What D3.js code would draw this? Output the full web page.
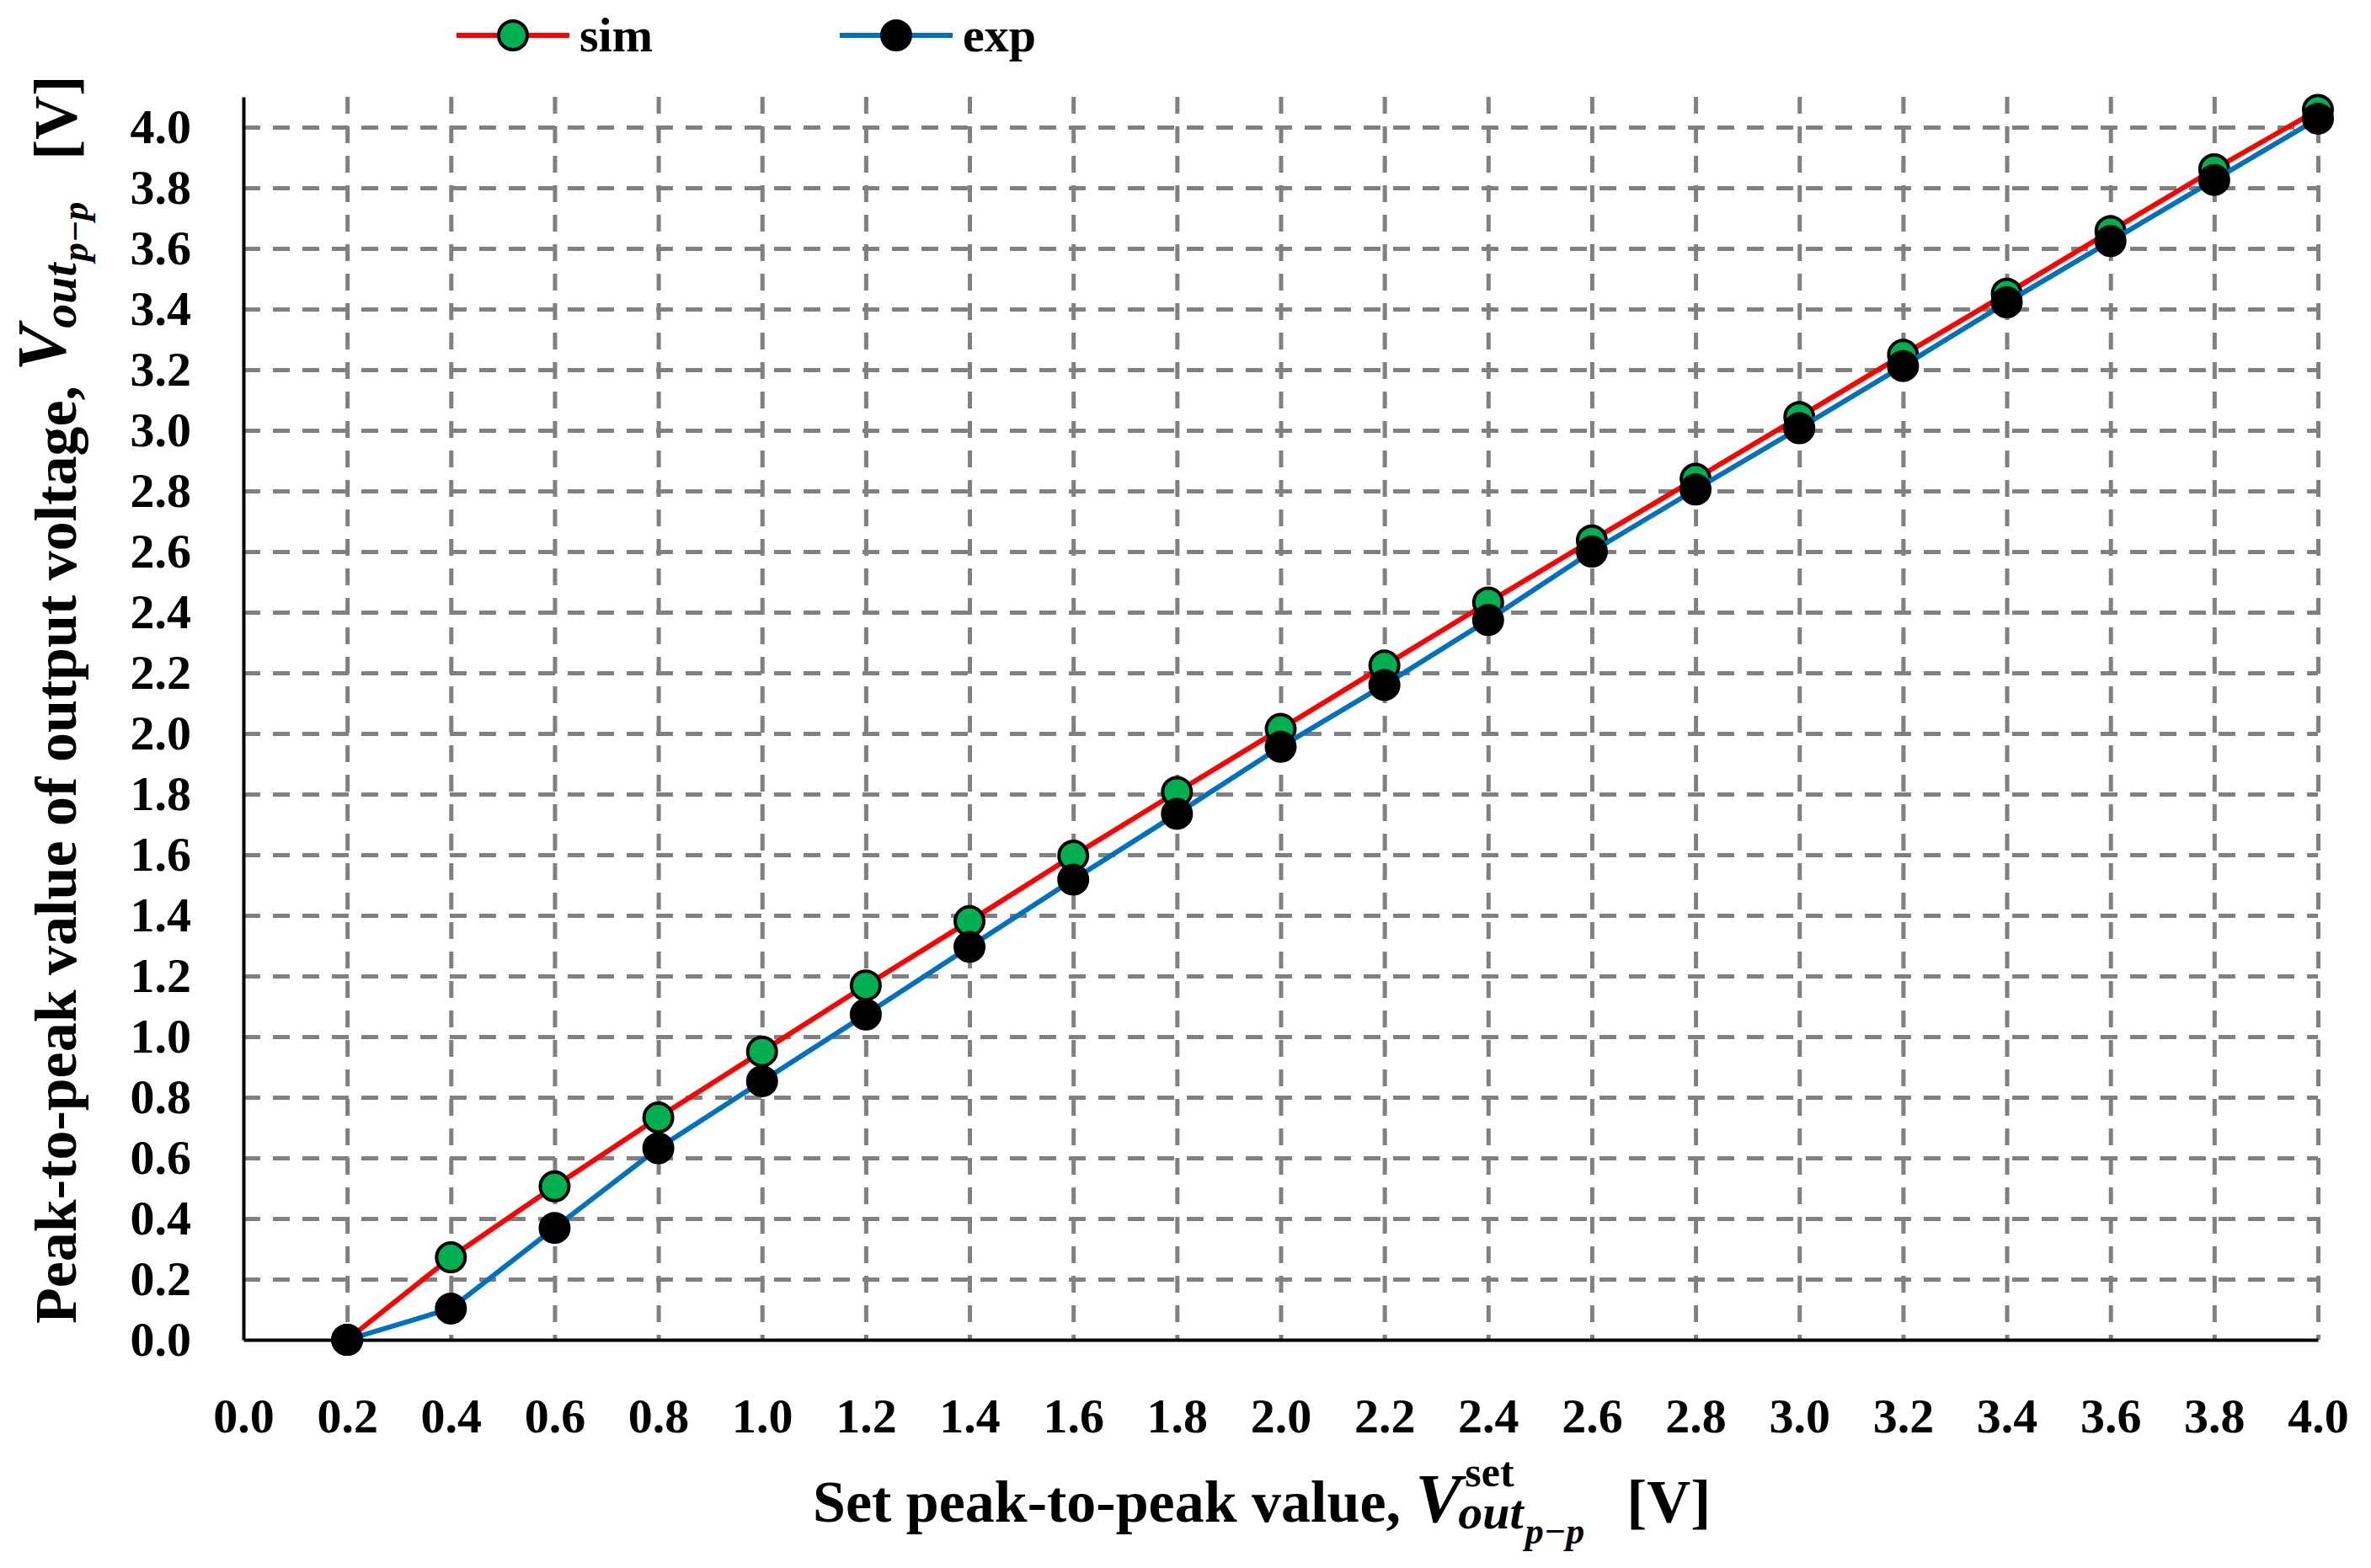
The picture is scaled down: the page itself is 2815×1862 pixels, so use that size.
<!DOCTYPE html>
<html>
<head>
<meta charset="utf-8">
<script src="https://cdn.jsdelivr.net/npm/d3@7/dist/d3.min.js"></script>
<style>
  body { margin: 0; background: #ffffff; }
  text { font-family: "Liberation Serif", "Times New Roman", serif; font-weight: bold; fill: #000; white-space: pre; }
</style>
</head>
<body>
<div id="chart"></div>
<script>
//Set peak-to-peak values (x axis)
const setValues = [0.2, 0.4, 0.6, 0.8, 1.0, 1.2, 1.4, 1.6, 1.8, 2.0,
                   2.2, 2.4, 2.6, 2.8, 3.0, 3.2, 3.4, 3.6, 3.8, 4.0];

//Simulated output peak-to-peak values
const simValues = [0.000, 0.272, 0.506, 0.733, 0.951, 1.169, 1.381, 1.597, 1.807, 2.015,
                   2.224, 2.432, 2.637, 2.840, 3.044, 3.249, 3.451, 3.657, 3.861, 4.057];

//Measured output peak-to-peak values
const expValues = [0.000, 0.103, 0.369, 0.632, 0.853, 1.073, 1.296, 1.518, 1.735, 1.956,
                   2.160, 2.374, 2.600, 2.805, 3.007, 3.212, 3.422, 3.624, 3.826, 4.028];

//Tick labels
const xTicks = [0.0, 0.2, 0.4, 0.6, 0.8, 1.0, 1.2, 1.4, 1.6, 1.8, 2.0,
                2.2, 2.4, 2.6, 2.8, 3.0, 3.2, 3.4, 3.6, 3.8, 4.0];
const yTicks = [0.0, 0.2, 0.4, 0.6, 0.8, 1.0, 1.2, 1.4, 1.6, 1.8, 2.0,
                2.2, 2.4, 2.6, 2.8, 3.0, 3.2, 3.4, 3.6, 3.8, 4.0];

//Series names
const seriesNames = ["sim", "exp"];

//Series drawing styles
const seriesStyle = {
    sim: {line: "#FF0000", fill: "#00B050"},
    exp: {line: "#0070C0", fill: "#000000"}
};
const seriesValues = {sim: simValues, exp: expValues};

//Dimensions
const W = 2815, H = 1862;
const margin = {top: 115, bottom: 271, left: 289, right: 63};
const width = W - margin.left - margin.right;
const height = H - margin.top - margin.bottom;

const svg = d3.select("#chart").append("svg")
    .attr("width", W)
    .attr("height", H);

const g = svg.append("g")
    .attr("transform", "translate(" + margin.left + "," + margin.top + ")");

//Scales
const x = d3.scaleLinear().domain([0, 4.0]).range([0, width]);
const y = d3.scaleLinear().domain([0, 4.1]).range([height, 0]);

//Horizontal grid lines
g.append("g")
    .attr("class", "grid")
    .call(d3.axisLeft(y).tickValues(yTicks.filter(d => d > 0)).tickSize(-width).tickFormat(""))
    .call(s => s.select(".domain").remove());

//Vertical grid lines (drawn from the top down)
g.append("g")
    .attr("class", "grid")
    .call(d3.axisTop(x).tickValues(xTicks.filter(d => d > 0)).tickSize(-height).tickFormat(""))
    .call(s => s.select(".domain").remove());

g.selectAll(".grid line")
    .attr("stroke", "#808080")
    .attr("stroke-width", 5)
    .attr("stroke-dasharray", "20,15");

//Y axis
const yAxis = g.append("g")
    .call(d3.axisLeft(y).tickValues(yTicks).tickFormat(d3.format(".1f")).tickSize(0).tickPadding(62));

//X axis
const xAxis = g.append("g")
    .attr("transform", "translate(0," + height + ")")
    .call(d3.axisBottom(x).tickValues(xTicks).tickFormat(d3.format(".1f")).tickSize(0).tickPadding(69));

[yAxis, xAxis].forEach(a => {
    a.select(".domain").attr("stroke", "#000").attr("stroke-width", 4);
    a.selectAll("text")
        .attr("font-size", 58)
        .attr("font-family", "Liberation Serif, serif")
        .attr("font-weight", "bold")
        .attr("fill", "#000");
});

//Lines and markers, one series at a time
const line = d3.line()
    .x(d => x(d.x))
    .y(d => y(d.y));

seriesNames.forEach(name => {
    const pts = setValues.map((v, i) => ({x: v, y: seriesValues[name][i]}));
    const style = seriesStyle[name];

    g.append("path")
        .datum(pts)
        .attr("fill", "none")
        .attr("stroke", style.line)
        .attr("stroke-width", 6)
        .attr("stroke-linejoin", "round")
        .attr("d", line);

    g.append("g").selectAll("circle")
        .data(pts)
        .enter().append("circle")
        .attr("cx", d => x(d.x))
        .attr("cy", d => y(d.y))
        .attr("r", 17)
        .attr("fill", style.fill)
        .attr("stroke", "#000")
        .attr("stroke-width", 4);
});

//Legend
const legendX = [542, 997];
const legend = svg.append("g").selectAll("g")
    .data(seriesNames)
    .enter().append("g")
    .attr("transform", (d, i) => "translate(" + legendX[i] + ",42)");

legend.append("line")
    .attr("x1", 0).attr("x2", 134)
    .attr("y1", 0).attr("y2", 0)
    .attr("stroke", d => seriesStyle[d].line)
    .attr("stroke-width", 6);

legend.append("circle")
    .attr("cx", 67).attr("cy", 0).attr("r", 17)
    .attr("fill", d => seriesStyle[d].fill)
    .attr("stroke", "#000")
    .attr("stroke-width", 4);

legend.append("text")
    .attr("x", 146).attr("y", 19)
    .attr("font-size", 58)
    .text(d => d);

//Axis title in one text element: plain text, italic V, upper/lower indices, unit
function axisTitle(parent, plain, sup, off) {
    const t = parent.append("text");

    const t0 = t.append("tspan").attr("x", 0).attr("y", 0)
        .attr("font-size", 70).text(plain);
    const w0 = t0.node().getComputedTextLength();

    const tv = t.append("tspan").attr("x", w0).attr("y", off.v)
        .attr("font-size", 82).attr("font-style", "italic").text("V");
    const wv = tv.node().getComputedTextLength();
    let end = w0 + wv;

    if (sup) {
        const ts = t.append("tspan").attr("x", w0 + wv + 4).attr("y", off.v - 42)
            .attr("font-size", 50).text(sup);
        end = Math.max(end, w0 + wv + 4 + ts.node().getComputedTextLength());
    }

    const to = t.append("tspan").attr("x", w0 + wv - 4).attr("y", off.out)
        .attr("font-size", 58).attr("font-style", "italic").text("out");
    const wo = to.node().getComputedTextLength();

    const tp = t.append("tspan").attr("x", w0 + wv - 2 + wo).attr("y", off.pp)
        .attr("font-size", 44).attr("font-style", "italic").text("p\u2212p");
    end = Math.max(end, w0 + wv - 2 + wo + tp.node().getComputedTextLength());

    t.append("tspan").attr("x", end + 50).attr("y", 0)
        .attr("font-size", 72).attr("font-style", "normal").text("[V]");
}

//X axis title
axisTitle(svg.append("g").attr("transform", "translate(965,1807)"),
    "Set peak-to-peak value, ", "set", {v: 0, out: 8, pp: 26});

//Y axis title
axisTitle(svg.append("g").attr("transform", "translate(90,1572) rotate(-90)"),
    "Peak-to-peak value of output voltage, ", null, {v: -13, out: 0, pp: 14});
</script>
</body>
</html>
